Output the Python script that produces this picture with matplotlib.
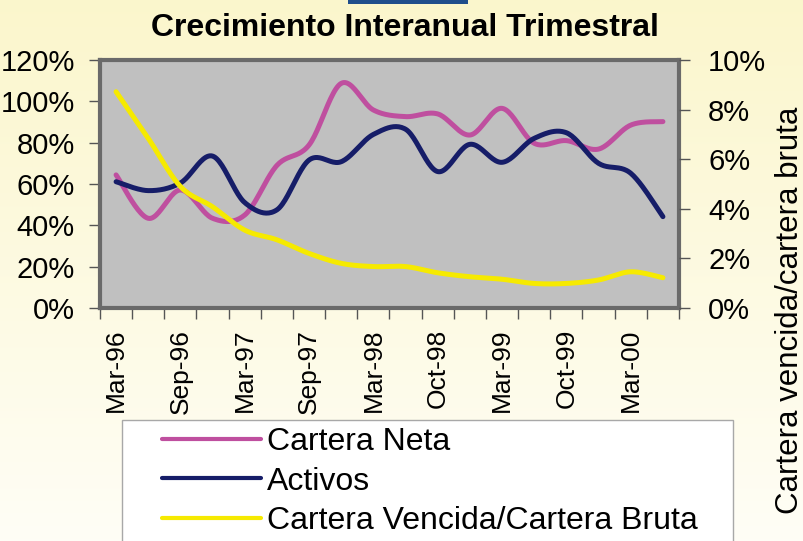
import numpy as np
import matplotlib
matplotlib.use('Agg')
import matplotlib.pyplot as plt
from matplotlib.patches import Rectangle
from matplotlib.lines import Line2D

plt.rcParams['font.family'] = ['Liberation Sans', 'DejaVu Sans']

# ---------------- data ----------------
categories = ['Mar-96', 'Jun-96', 'Sep-96', 'Dec-96', 'Mar-97', 'Jun-97', 'Sep-97', 'Dec-97',
              'Mar-98', 'Jun-98', 'Oct-98', 'Dec-98', 'Mar-99', 'Jun-99', 'Oct-99', 'Dec-99',
              'Mar-00', 'Jun-00']
cartera_neta = [64.4, 43.4, 57.1, 43.4, 45.0, 69.0, 78.9, 108.7, 95.8, 92.6, 93.9, 83.7,
                96.6, 79.7, 81.0, 76.9, 88.5, 90.2]
activos = [61.1, 56.8, 60.5, 73.5, 51.0, 47.5, 71.6, 70.8, 84.0, 86.5, 66.0, 79.2,
           70.5, 82.1, 84.8, 70.0, 65.2, 44.2]
vencida_bruta = [8.72, 6.84, 4.90, 4.08, 3.14, 2.75, 2.20, 1.80, 1.67, 1.67, 1.42, 1.26,
                 1.16, 0.99, 0.99, 1.13, 1.46, 1.22]
left_ticks = [0, 20, 40, 60, 80, 100, 120]
right_ticks = [0, 2, 4, 6, 8, 10]
title = 'Crecimiento Interanual Trimestral'
series_names = ['Cartera Neta', 'Activos', 'Cartera Vencida/Cartera Bruta']
right_label = 'Cartera vencida/cartera bruta'

colors = ['#BF4F9F', '#161D68', '#F6EA00']


def smooth(x, y, n=24):
    pts = np.column_stack([x, y]).astype(float)
    P = np.vstack([pts[0], pts, pts[-1]])
    out = []
    t = np.linspace(0, 1, n, endpoint=False)[:, None]
    for i in range(1, len(P) - 2):
        p0, p1, p2, p3 = P[i - 1], P[i], P[i + 1], P[i + 2]
        seg = 0.5 * ((2 * p1) + (-p0 + p2) * t + (2 * p0 - 5 * p1 + 4 * p2 - p3) * t ** 2
                     + (-p0 + 3 * p1 - 3 * p2 + p3) * t ** 3)
        out.append(seg)
    out.append(pts[-1][None])
    s = np.vstack(out)
    return s[:, 0], s[:, 1]


W, H = 804, 541
fig = plt.figure(figsize=(W / 100, H / 100), dpi=100)

# background gradient
bg = fig.add_axes([0, 0, 1, 1], zorder=-10)
grad = np.linspace(0, 1, 256)[:, None]
top = np.array([0.984, 0.965, 0.80])
bot = np.array([1.0, 0.995, 0.965])
img = top[None, None, :] * (1 - grad[:, :, None]) + bot[None, None, :] * grad[:, :, None]
bg.imshow(img, aspect='auto', extent=[0, 1, 0, 1])
bg.set_axis_off()

# blue bar at top
fig.patches.append(Rectangle((348 / W, 1 - 4 / H), 120 / W, 4 / H, transform=fig.transFigure,
                             facecolor='#1F4E8C', edgecolor='none'))

L, R, T, B = 100, 679, 60, 308
ax = fig.add_axes([L / W, 1 - B / H, (R - L) / W, (B - T) / H])
ax.set_facecolor('#C0C0C0')
x = np.arange(len(categories))

sx, sy = smooth(x, cartera_neta)
ax.plot(sx, sy, color=colors[0], lw=3.6, solid_capstyle='round')
sx, sy = smooth(x, activos)
ax.plot(sx, sy, color=colors[1], lw=3.6, solid_capstyle='round')

ax.set_xlim(-0.5, len(categories) - 0.5)
ax.set_ylim(0, 120)
ax.set_yticks(left_ticks)
ax.set_yticklabels([f'{v}%' for v in left_ticks])
ax.set_xticks(x[::2])
ax.set_xticklabels(categories[::2], rotation=90)
ax.set_xticks(np.arange(-0.5, len(categories), 1), minor=True)
ax.tick_params(axis='x', which='major', length=0, pad=15, labelsize=19)
ax.tick_params(axis='x', which='minor', direction='out', length=8, width=1, color='#555555')
ax.tick_params(axis='y', direction='out', length=8, width=1, color='#555555', labelsize=21, pad=10)
for sp in ax.spines.values():
    sp.set_color('#6A6A6A')
    sp.set_linewidth(3)

ax2 = ax.twinx()
sx, sy = smooth(x, vencida_bruta)
ax2.plot(sx, sy, color=colors[2], lw=3.6, solid_capstyle='round')
ax2.set_ylim(0, 10)
ax2.set_yticks(right_ticks)
ax2.set_yticklabels([f'{v}%' for v in right_ticks])
ax2.tick_params(axis='y', direction='out', length=8, width=1, color='#555555', labelsize=21, pad=13)
for sp in ax2.spines.values():
    sp.set_visible(False)

fig.text(405 / W, 1 - 28 / H, title, ha='center', va='center', fontsize=23, fontweight='bold')
fig.text(790 / W, 1 - 310 / H, right_label, rotation=90, ha='center', va='center', fontsize=22.5)

# legend box
fig.patches.append(Rectangle((122 / W, -0.05), (733 - 122) / W, 0.05 + 1 - 420 / H,
                             transform=fig.transFigure, facecolor='white',
                             edgecolor='#A8A8A8', lw=1, zorder=1))
handles = [Line2D([], [], color=c, lw=3, solid_capstyle='round') for c in colors]
fig.legend(handles, series_names, loc='upper left', bbox_to_anchor=(162 / W, 1 - 427 / H),
           frameon=False, fontsize=23, handlelength=3.1, handletextpad=0.2,
           labelspacing=0.3, borderpad=0, borderaxespad=0)

fig.savefig('out.png', dpi=100)
